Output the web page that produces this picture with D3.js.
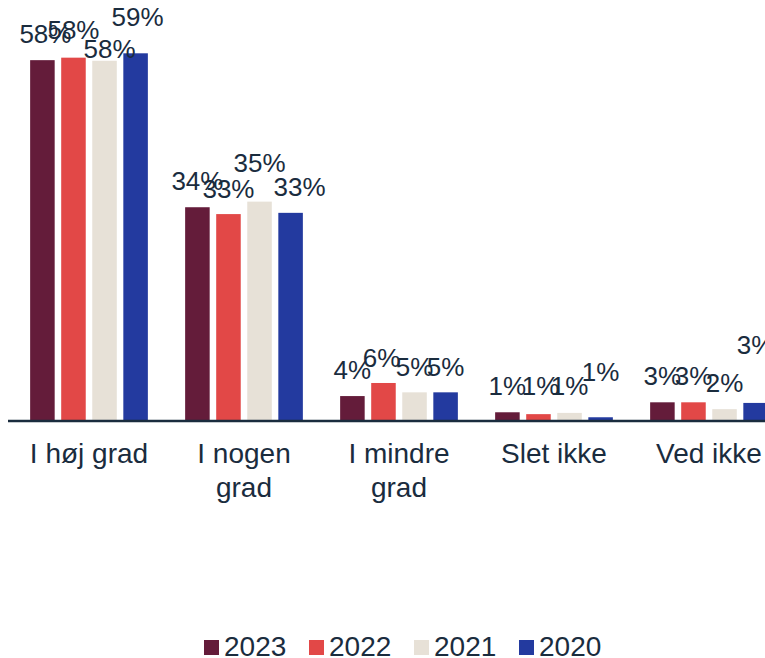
<!DOCTYPE html>
<html>
<head>
<meta charset="utf-8">
<script src="https://cdn.jsdelivr.net/npm/d3@7"></script>
<style>
  html, body { margin: 0; padding: 0; background: #ffffff; }
  svg { display: block; }
  text { font-family: "Liberation Sans", Arial, sans-serif; fill: #1a2c3e; }
</style>
</head>
<body>
<svg id="chart" width="765" height="658"></svg>
<script>
// ---- data ----
const categories = ["I høj grad", "I nogen grad", "I mindre grad", "Slet ikke", "Ved ikke"];
const years = ["2023", "2022", "2021", "2020"];
const values2023 = [57.9, 34.3, 4.0, 1.4, 3.0];
const values2022 = [58.3, 33.2, 6.1, 1.1, 3.0];
const values2021 = [57.8, 35.2, 4.6, 1.3, 1.9];
const values2020 = [59.0, 33.4, 4.6, 0.6, 2.9];
const colors = ["#641c3a", "#e24847", "#e7e1d7", "#233a9f"];

// label nudges (reference places some labels off their default spot)
const nudgeX = [
  [3, 0, 0, 0, 0],
  [0, 0, -2, 2, 0],
  [5, 0, 0, 0, 0],
  [2, 9, 0, 0, 0]
];
const nudgeY = [
  [0, 0, 0, 0, 0],
  [-2, 1, 1, -2, 0],
  [14, -13, 1, -1, 0],
  [-10, 0, 1, -19, -32]
];

const series = [values2023, values2022, values2021, values2020];

const svg = d3.select("#chart");
const baseY = 421;

const x0 = d3.scaleBand().domain(categories).range([11.5, 786.5]).paddingInner(0).paddingOuter(0);
const x1 = d3.scaleBand().domain(years).range([0, x0.bandwidth()]).paddingInner(0.21).paddingOuter(0.6);
const y = d3.scaleLinear().domain([0, 59]).range([baseY, 53.3]);

const fmt = v => d3.format(".0f")(v) + "%";

// bars
years.forEach((yr, si) => {
  const g = svg.append("g");
  g.selectAll("rect").data(series[si]).join("rect")
    .attr("x", (d, i) => x0(categories[i]) + x1(yr))
    .attr("y", d => y(d))
    .attr("width", x1.bandwidth())
    .attr("height", d => baseY - y(d))
    .attr("fill", colors[si]);
});

// axis line
svg.append("line")
  .attr("x1", 8).attr("x2", 765)
  .attr("y1", baseY).attr("y2", baseY)
  .attr("stroke", "#1a2c3e").attr("stroke-width", 2.5);

// value labels
years.forEach((yr, si) => {
  svg.append("g").selectAll("text").data(series[si]).join("text")
    .attr("x", (d, i) => x0(categories[i]) + x1(yr) + x1.bandwidth() / 2 + nudgeX[si][i])
    .attr("y", (d, i) => y(d) - 17 + nudgeY[si][i])
    .attr("text-anchor", "middle")
    .style("font-size", "26px")
    .text(d => fmt(d));
});

// category labels with wrapping
const catG = svg.append("g");
categories.forEach(cat => {
  const t = catG.append("text")
    .attr("x", x0(cat) + x0.bandwidth() / 2)
    .attr("y", 463)
    .attr("text-anchor", "middle")
    .style("font-size", "28px");
  const words = cat.split(" ");
  let line = [];
  let lineNo = 0;
  let tspan = t.append("tspan").attr("x", x0(cat) + x0.bandwidth() / 2).attr("dy", 0);
  words.forEach(w => {
    line.push(w);
    tspan.text(line.join(" "));
    if (tspan.node().getComputedTextLength() > 125 && line.length > 1) {
      line.pop();
      tspan.text(line.join(" "));
      line = [w];
      lineNo++;
      tspan = t.append("tspan").attr("x", x0(cat) + x0.bandwidth() / 2).attr("dy", 34).text(w);
    }
  });
});

// legend
const legend = svg.append("g").attr("transform", "translate(204,0)");
years.forEach((yr, i) => {
  const g = legend.append("g").attr("transform", `translate(${i * 105},0)`);
  g.append("rect").attr("x", 0).attr("y", 640).attr("width", 15).attr("height", 15).attr("fill", colors[i]);
  g.append("text").attr("x", 20).attr("y", 656).style("font-size", "28px").text(yr);
});
</script>
</body>
</html>
